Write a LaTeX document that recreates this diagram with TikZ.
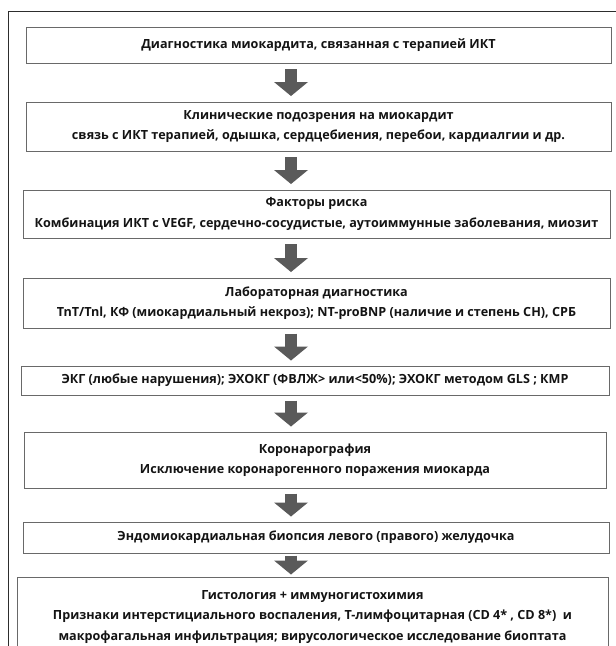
\documentclass[tikz,border=0pt]{standalone}
\usepackage{fontspec}
\setmainfont{Open Sans}
\usetikzlibrary{arrows.meta,calc}
\definecolor{boxline}{RGB}{105,105,105}
\definecolor{arrowgray}{RGB}{90,90,90}
\definecolor{framecol}{RGB}{45,45,45}
\definecolor{txt}{RGB}{20,20,20}
\tikzset{
  stepbox/.style={draw=boxline, line width=1pt, fill=white, align=center, text=txt,
    font=\bfseries\fontsize{12.6}{20.5}\selectfont, inner sep=0pt},
  bigarrow/.style={draw=arrowgray, line width=12pt,
    -{Triangle[width=34pt,length=14pt,line width=0pt]}},
}
\begin{document}
\begin{tikzpicture}[x=1pt,y=-1pt]
\useasboundingbox (0,0) rectangle (616,646);
\fill[white] (0,0) rectangle (616,646);
\draw[framecol, line width=1pt] (616,11) -- (8,11) -- (8,650);
\coordinate (ax) at (291,0);

\node[stepbox, minimum width=585pt, minimum height=36pt] (b1) at ({(26+611)/2},{(27+63)/2})
  {Диагностика миокардита, связанная с терапией ИКТ};
\node[stepbox, minimum width=585pt, minimum height=49pt] (b2) at ({(26+611)/2},{(102+151)/2})
  {Клинические подозрения на миокардит\\связь с ИКТ терапией, одышка, сердцебиения, перебои, кардиалгии и др.};
\node[stepbox, minimum width=587pt, minimum height=48pt] (b3) at ({(23+610)/2},{(190+238)/2})
  {Факторы риска\\Комбинация ИКТ с VEGF, сердечно-сосудистые, аутоиммунные заболевания, миозит};
\node[stepbox, minimum width=587pt, minimum height=50pt] (b4) at ({(23+610)/2},{(278+328)/2})
  {Лабораторная диагностика\\TnT/Tnl, КФ (миокардиальный некроз); NT-proBNP (наличие и степень СН), СРБ};
\node[stepbox, minimum width=588pt, minimum height=29pt] (b5) at ({(21+609)/2},{(366+395)/2})
  {ЭКГ (любые нарушения); ЭХОКГ (ФВЛЖ> или<50\%); ЭХОКГ методом GLS ; КМР};
\node[stepbox, minimum width=582pt, minimum height=56pt] (b6) at ({(24+606)/2},{(432+488)/2})
  {Коронарография\\Исключение коронарогенного поражения миокарда};
\node[stepbox, minimum width=586pt, minimum height=31pt] (b7) at ({(23+609)/2},{(522+553)/2})
  {Эндомиокардиальная биопсия левого (правого) желудочка};
\node[stepbox, minimum width=591pt, minimum height=80pt] (b8) at ({(17+608)/2},617)
  {Гистология + иммуногистохимия\\Признаки интерстициального воспаления, Т-лимфоцитарная (CD 4* , CD 8*)~ и\\макрофагальная инфильтрация; вирусологическое исследование биоптата};

\foreach \a/\b/\g in {b1/b2/5.5,b2/b3/5.5,b3/b4/5.5,b4/b5/5,b5/b6/5,b6/b7/5,b7/b8/2}{
  \draw[bigarrow] ($(\a.south -| ax)+(0,\g)$) -- ($(\b.north -| ax)+(0,-\g)$);
}
\end{tikzpicture}
\end{document}
